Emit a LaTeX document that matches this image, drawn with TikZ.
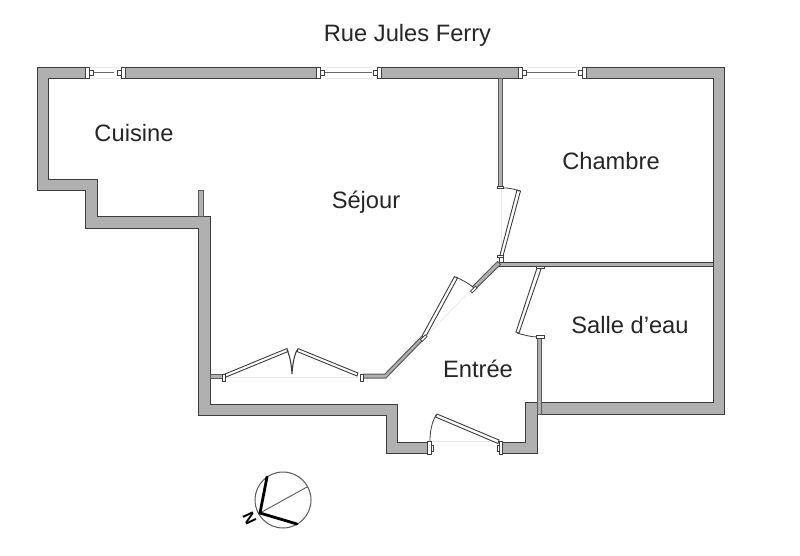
\documentclass[tikz,border=0pt]{standalone}
\usepackage{fontspec}
\setmainfont{Liberation Sans}
\definecolor{wallgray}{HTML}{B0B0B0}
\definecolor{wallline}{HTML}{3C3C3C}
\definecolor{faint}{HTML}{E8E8E8}
\tikzset{
  wall/.style={fill=wallgray,draw=wallline,line width=1pt,line join=miter},
  thin partition/.style={fill=wallgray,draw=wallline!85,line width=1pt},
  leaf/.style={fill=white,draw=wallline,line width=0.9pt},
  swing/.style={draw=wallline,line width=0.8pt},
  opening/.style={draw=faint,line width=0.7pt},
  glass/.style={draw=gray!80!black,line width=0.9pt},
  jamb/.style={fill=white,draw=black!75,line width=0.7pt},
  label/.style={font=\fontsize{23.7}{26}\selectfont,text=black!85,inner sep=0pt,anchor=base}
}
\newcommand{\winjamb}[2]{% x of plate, direction +1/-1
  \path[jamb] (#1,67) rectangle ++(#2*4,11);
  \path[jamb] (#1+#2*4,70) rectangle ++(#2*4,5);
}
\begin{document}
\begin{tikzpicture}[x=1pt,y=-1pt]
\useasboundingbox[fill=white] (0,0) rectangle (800,555);
% main wall shell
\path[wall] (85,78) -- (48,78) -- (48,179) -- (97,179) -- (97,216.5) -- (210,216.5) -- (210,404) -- (397,404) -- (397,442) -- (428,442)
 -- (428,453) -- (386,453) -- (386,415) -- (198,415) -- (198,228) -- (85,228) -- (85,190) -- (37,190) -- (37,67) -- (85,67) -- cycle;
\path[wall] (499,442) -- (525,442) -- (525,402) -- (713,402) -- (713,78) -- (583,78) -- (583,67) -- (724,67) -- (724,414) -- (537,414) -- (537,453) -- (499,453) -- cycle;
\path[wall] (121,67) rectangle (318,78);
\path[wall] (379,67) rectangle (519,78);
% windows
\draw[opening] (89,67) -- (118,67) (89,78) -- (118,78);
\draw[glass] (93,72.5) -- (114,72.5);
\draw[opening] (325,67) -- (372,67) (325,78) -- (372,78);
\draw[glass] (325,72.5) -- (372,72.5);
\draw[opening] (526,67) -- (576,67) (526,78) -- (576,78);
\draw[glass] (526,72.5) -- (576,72.5);
\winjamb{85}{1} \winjamb{125}{-1}
\winjamb{316}{1} \winjamb{381}{-1}
\winjamb{518}{1} \winjamb{586}{-1}
% partitions
\path[thin partition] (498.5,78) rectangle (502.5,187);
\path[wall] (499,262) rectangle (713,266);
\path[thin partition] (537,338) rectangle (541,414);
\path[thin partition] (198,190) rectangle (203,216.5);
\path[thin partition] (210,374) rectangle (222,378);
\path[thin partition] (363,374) -- (385,374) -- (421.5,336.5) -- (424,339) -- (386,378) -- (363,378) -- cycle;
\path[thin partition] (472.5,286.5) -- (497.5,261.5) -- (500.5,264.5) -- (475,289.5) -- cycle;
% faint door openings
\draw[opening] (225,377) -- (358,377);
\draw[opening] (501,188) -- (501,255);
\draw[opening] (425,337) -- (473,288);
\draw[opening] (431,441) -- (499,441);
% sejour double door
\path[leaf] (225,374) -- (287,348.5) -- (288,351.5) -- (226,377) -- cycle;
\path[leaf] (298,348.5) -- (358,373) -- (357,376) -- (297,351.5) -- cycle;
\draw[swing,line width=1.1pt] (287,350) .. controls (290,356) and (291.5,365) .. (292,374) .. controls (292.5,365) and (294,356) .. (297,350);
\path[jamb] (222,374) rectangle (225,381);
\path[jamb] (360,374) rectangle (363,381);
% entry side door
\path[leaf] (422,336) -- (454.5,276.5) -- (457.5,278) -- (425,338) -- cycle;
\draw[swing] (456,277) .. controls (462,280) and (468,283) .. (473,287);
\path[jamb,rotate around={45:(424,339)}] (421,337) rectangle (428,339.5);
\path[jamb,rotate around={45:(474,289)}] (470,288) rectangle (477,290.5);
% chamber door
\path[leaf] (500,255) -- (517,190) -- (520.5,191) -- (503,256) -- cycle;
\draw[swing] (519,191) .. controls (512,188) and (505,187.5) .. (498,188);
\path[jamb] (497,186) rectangle (503,188.5);
\path[jamb] (497,255) rectangle (503,257.5);
\path[jamb] (499,257.5) rectangle (503,262);
% bath door
\path[leaf] (537,268) -- (516,332) -- (519,333) -- (541,269) -- cycle;
\draw[swing] (517,333) .. controls (524,335) and (531,337) .. (538,337);
\path[jamb] (536,266) rectangle (544,268.5);
\path[jamb] (536,335.5) rectangle (544,338);
% entrance door
\path[leaf] (437,414) -- (499,440) -- (498,443.5) -- (435.5,417) -- cycle;
\draw[swing] (436,415) .. controls (432,422) and (430,431) .. (430,441);
\path[jamb] (427,441) rectangle (431,454);
\path[jamb] (431,445) rectangle (433,451);
\path[jamb] (499,441) rectangle (502,454);
\path[jamb] (497,445) rectangle (499,451);
% labels
\node[label] (rue) at (407.5,41.5) {Rue Jules Ferry};
\node[label] (cuisine) at (134,141) {Cuisine};
\node[label] (sejour) at (366,208) {Séjour};
\node[label] (chambre) at (611,169) {Chambre};
\node[label] (salle) at (630,333) {Salle d’eau};
\node[label] (entree) at (478,377) {Entrée};
% compass
\coordinate (cc) at (283,500);
\coordinate (nn) at (260,513);
\draw[black!65,line width=1pt] (cc) circle (28);
\draw[black!65,line width=0.9pt] (nn) -- (307,487);
\draw[black,line width=2.8pt,line cap=round] (267,477) -- (nn) -- (297,524);
\node[font=\bfseries\fontsize{16}{16}\selectfont,rotate=-65,inner sep=0pt] (north) at (249.5,518.5) {N};
\end{tikzpicture}
\end{document}
